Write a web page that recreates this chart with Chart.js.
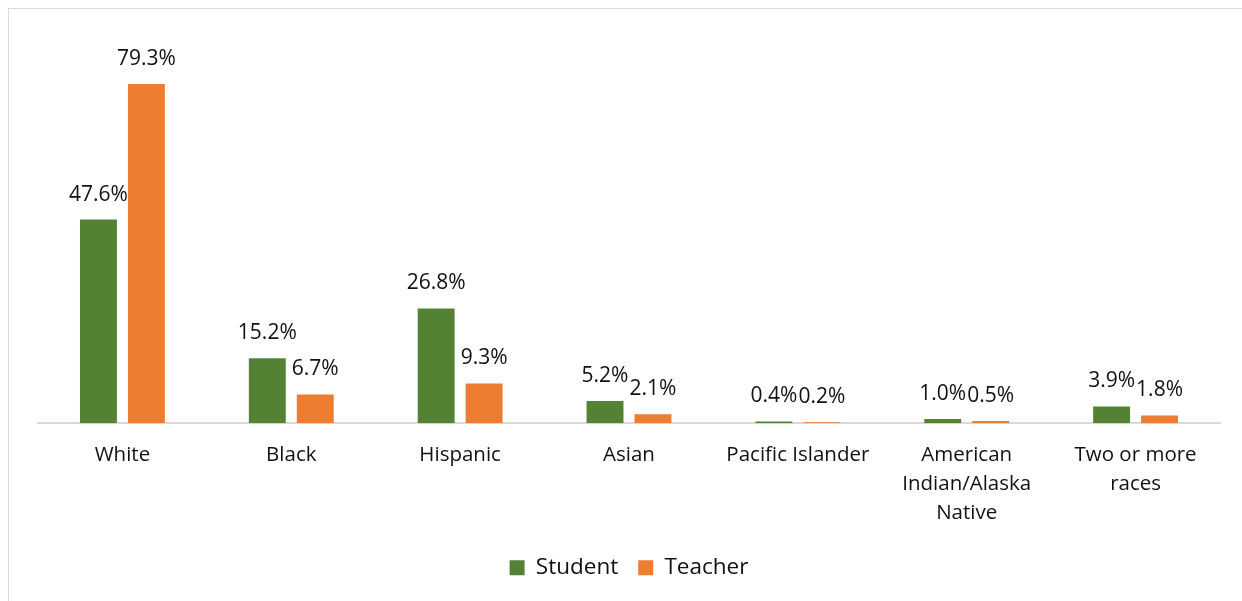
<!DOCTYPE html>
<html>
<head>
<meta charset="utf-8">
<script src="https://cdn.jsdelivr.net/npm/chart.js@4/dist/chart.umd.min.js"></script>
<style>
  html, body { margin: 0; padding: 0; background: #fff; overflow: hidden; }
  #frame { position: absolute; left: 8px; top: 8px; width: 1300px; height: 650px; border: 1.5px solid #d9d9d9; box-sizing: border-box; }
  #wrap { position: absolute; left: 0; top: 0; width: 1242px; height: 601px; }
</style>
</head>
<body>
<div id="frame"></div>
<div id="wrap"><canvas id="c" width="1242" height="601"></canvas></div>
<script>
const categories = ['White', 'Black', 'Hispanic', 'Asian', 'Pacific Islander', ['American', 'Indian/Alaska', 'Native'], ['Two or more', 'races']];
const studentValues = [47.6, 15.2, 26.8, 5.2, 0.4, 1.0, 3.9];
const teacherValues = [79.3, 6.7, 9.3, 2.1, 0.2, 0.5, 1.8];
const seriesNames = ['Student', 'Teacher'];

const FONT = "'Open Sans', 'Noto Sans', sans-serif";

const valueLabels = {
  id: 'valueLabels',
  afterDatasetsDraw(chart) {
    const ctx = chart.ctx;
    ctx.save();
    ctx.font = "21px " + FONT;
    ctx.fillStyle = '#111';
    ctx.textAlign = 'center';
    ctx.textBaseline = 'middle';
    chart.data.datasets.forEach((ds, i) => {
      const meta = chart.getDatasetMeta(i);
      meta.data.forEach((bar, j) => {
        ctx.fillText(ds.data[j].toFixed(1) + '%', bar.x, bar.y - 25);
      });
    });
    ctx.restore();
  }
};

new Chart(document.getElementById('c'), {
  type: 'bar',
  data: {
    labels: categories,
    datasets: [
      { label: seriesNames[0], data: studentValues, backgroundColor: '#548235', borderWidth: 0 },
      { label: seriesNames[1], data: teacherValues, backgroundColor: '#ED7D31', borderWidth: 0 }
    ]
  },
  options: {
    responsive: false,
    animation: false,
    devicePixelRatio: 1,
    layout: { padding: { left: 38, right: 22, top: 21, bottom: 12 } },
    datasets: { bar: { categoryPercentage: 0.568, barPercentage: 0.77 } },
    scales: {
      x: {
        grid: { display: false },
        border: { display: true, color: '#d9d9d9', width: 2 },
        ticks: { color: '#111', font: { family: FONT, size: 20.5, lineHeight: 1.42 }, padding: 9, maxRotation: 0, autoSkip: false }
      },
      y: { display: false, min: 0, max: 94 }
    },
    plugins: {
      legend: {
        position: 'bottom',
        labels: { boxWidth: 15, boxHeight: 15, padding: 20, color: '#111', font: { family: FONT, size: 22.5 } }
      },
      tooltip: { enabled: false }
    }
  },
  plugins: [valueLabels]
});
</script>
</body>
</html>
